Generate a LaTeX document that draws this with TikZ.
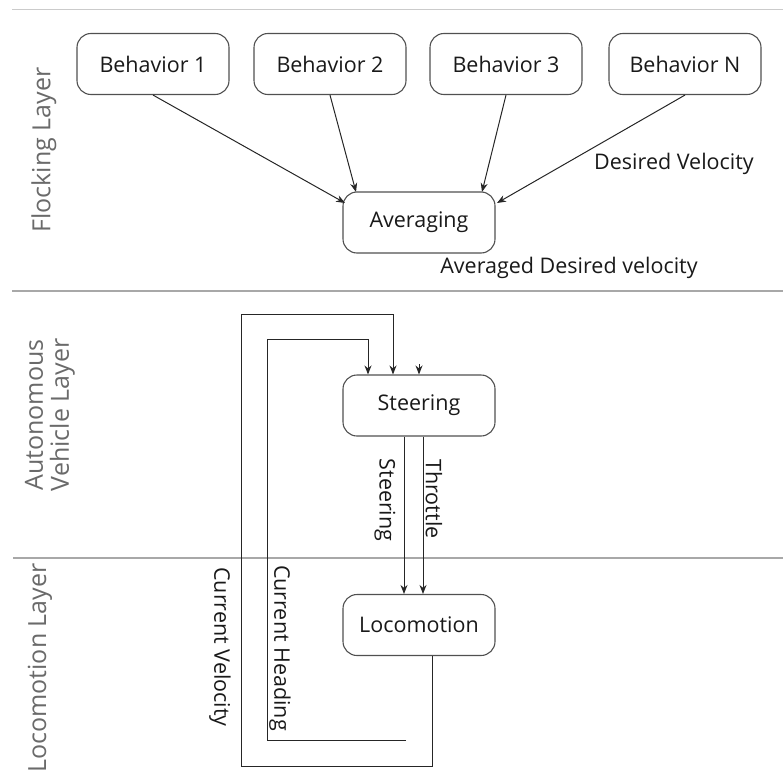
\documentclass[tikz,border=0pt]{standalone}
\usepackage{fontspec}
\setmainfont{Open Sans}
\usetikzlibrary{arrows.meta,calc}
\definecolor{layergray}{HTML}{6A6A6A}
\definecolor{sepgray}{HTML}{A8A8A8}
\definecolor{boxgray}{HTML}{505050}
\tikzset{
  blockbox/.style={draw=boxgray,line width=1.1pt,rounded corners=14pt,minimum width=152pt,minimum height=61pt,font=\fontsize{21.5}{24}\selectfont,text=black!90},
  conn/.style={draw=black!85,line width=1pt,-{Stealth[length=9pt,width=7pt]}},
  lbl/.style={font=\fontsize{21.5}{24}\selectfont,text=black!90},
  layerlbl/.style={font=\fontsize{25}{29}\selectfont,text=layergray,rotate=90,align=center},
  sepline/.style={draw=sepgray,line width=2pt}
}
\begin{document}
\begin{tikzpicture}[x=1pt,y=-1pt]
\useasboundingbox (0,0) rectangle (783,784);
% separators
\coordinate (t0) at (12,10); \coordinate (t1) at (783,10);
\coordinate (s0) at (12,291); \coordinate (s1) at (783,291);
\coordinate (u0) at (13,558); \coordinate (u1) at (783,558);
\draw[draw=sepgray!60,line width=1pt] (t0) -- (t1);
\draw[sepline] (s0) -- (s1);
\draw[sepline] (u0) -- (u1);
% layer labels
\node[layerlbl] (lf) at (44,150) {Flocking Layer};
\node[layerlbl] (la) at (50,415) {Autonomous\\[-3pt]Vehicle Layer};
\node[layerlbl] (ll) at (40,668) {Locomotion Layer};
% boxes
\node[blockbox] (b1) at (153,64) {Behavior 1};
\node[blockbox] (b2) at (330,64) {Behavior 2};
\node[blockbox] (b3) at (506,64) {Behavior 3};
\node[blockbox] (bn) at (685,64) {Behavior N};
\node[blockbox] (avg) at (419,222.5) {Averaging};
\node[blockbox] (steer) at (419,405.5) {Steering};
\node[blockbox] (loco) at (419,625) {Locomotion};
% flocking arrows
\coordinate (a1) at (345,203);
\coordinate (a2) at (356,192);
\coordinate (a3) at (482,192);
\coordinate (a4) at (497,203);
\draw[conn] (b1.south) -- (a1);
\draw[conn] (b2.south) -- (a2);
\draw[conn] (b3.south) -- (a3);
\draw[conn] (bn.south) -- (a4);
\node[lbl] (dv) at (674,164) {Desired Velocity};
\node[lbl] (adv) at (569,268) {Averaged Desired velocity};
% steering to locomotion
\coordinate (so1) at ($(steer.south)+(-15,0)$);
\coordinate (so2) at ($(steer.south)+(4,0)$);
\coordinate (li1) at ($(loco.north)+(-15,0)$);
\coordinate (li2) at ($(loco.north)+(4,0)$);
\draw[conn] (so1) -- (li1);
\draw[conn] (so2) -- (li2);
\node[lbl,rotate=-90] (ls) at (385,500) {Steering};
\node[lbl,rotate=-90] (lt) at (434,499) {Throttle};
% feedback loops
\coordinate (lo) at ($(loco.south)+(13,0)$);
\coordinate (v1) at (432,766);
\coordinate (v2) at (241,766);
\coordinate (v3) at (241,314);
\coordinate (v4) at (393,314);
\coordinate (vin) at ($(steer.north)+(-26,0)$);
\draw[conn] (lo) -- (v1) -- (v2) -- (v3) -- (v4) -- (vin);
\coordinate (h0) at (406,740);
\coordinate (h1) at (267,740);
\coordinate (h2) at (267,339);
\coordinate (h3) at (368,339);
\coordinate (hin) at ($(steer.north)+(-51,0)$);
\draw[conn] (h0) -- (h1) -- (h2) -- (h3) -- (hin);
\coordinate (st0) at (419,364);
\draw[conn] (st0) -- (steer.north);
\node[lbl,rotate=-90] (cv) at (220,647) {Current Velocity};
\node[lbl,rotate=-90] (ch) at (280,648) {Current Heading};
\end{tikzpicture}
\end{document}
